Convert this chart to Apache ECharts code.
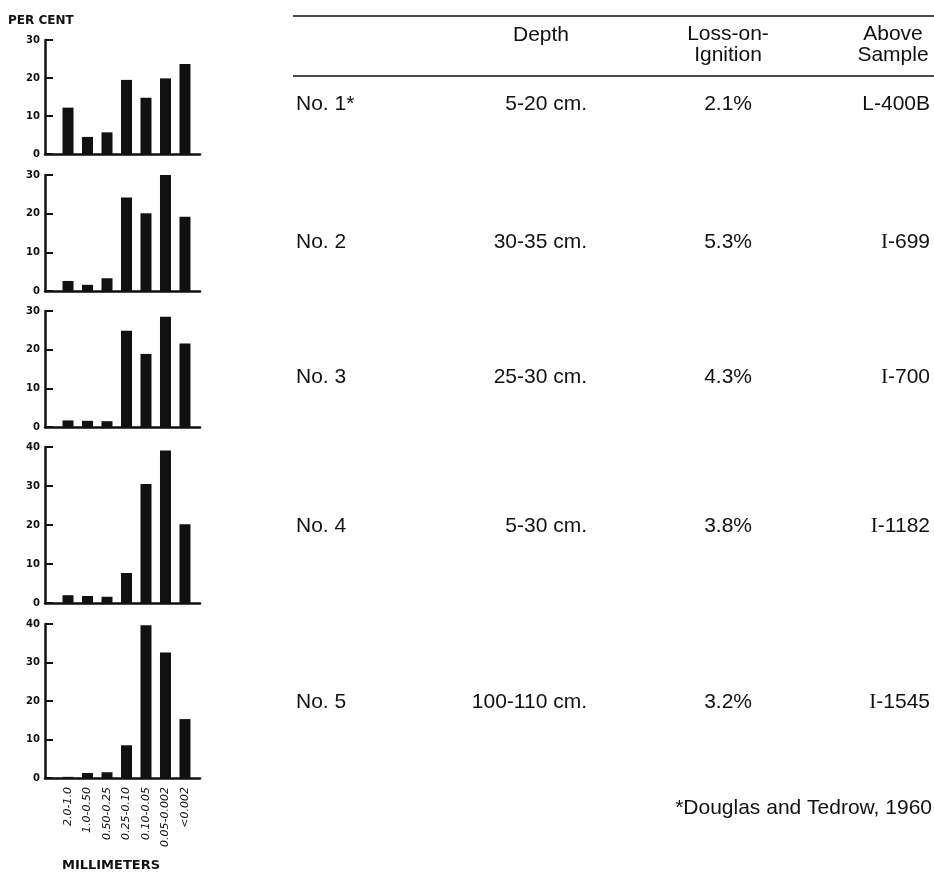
<!DOCTYPE html>
<html>
<head>
<meta charset="utf-8">
<script src="https://cdn.jsdelivr.net/npm/echarts@6/dist/echarts.min.js"></script>
<style>
  html, body { margin: 0; padding: 0; background: #fff; }
  #chart { width: 934px; height: 872px; }
</style>
</head>
<body>
<div id="chart"></div>
<script>
// ---- data ----
const categories = ['2.0-1.0', '1.0-0.50', '0.50-0.25', '0.25-0.10', '0.10-0.05', '0.05-0.002', '<0.002'];
const sample1 = [12.2, 4.5, 5.7, 19.5, 14.8, 19.9, 23.7];
const sample2 = [2.6, 1.6, 3.3, 24.2, 20.1, 30.1, 19.2];
const sample3 = [1.7, 1.6, 1.5, 24.9, 18.9, 28.5, 21.6];
const sample4 = [2.0, 1.8, 1.6, 7.7, 30.5, 39.1, 20.2];
const sample5 = [0.3, 1.3, 1.5, 8.5, 39.7, 32.6, 15.3];
const yMaxes = [30, 30, 30, 40, 40];
const sampleNames = ['No. 1*', 'No. 2', 'No. 3', 'No. 4', 'No. 5'];
const depths = ['5-20 cm.', '30-35 cm.', '25-30 cm.', '5-30 cm.', '100-110 cm.'];
const losses = ['2.1%', '5.3%', '4.3%', '3.8%', '3.2%'];
const labIds = ['L-400B', 'I-699', 'I-700', 'I-1182', 'I-1545'];
const headers = { depth: 'Depth', loss: 'Loss-on-\nIgnition', sample: 'Above\nSample' };
const footnote = '*Douglas and Tedrow, 1960';
const yTitle = 'PER CENT';
const xTitle = 'MILLIMETERS';

// ---- layout ----
const samples = [sample1, sample2, sample3, sample4, sample5];
const panels = [
  { top: 40, bottom: 154 },
  { top: 175, bottom: 291 },
  { top: 311, bottom: 427 },
  { top: 447, bottom: 603 },
  { top: 624, bottom: 778 }
];
const rowY = [104, 242, 377, 526, 702];
const INK = '#111';
const chartFont = 'DejaVu Sans';
const tableFont = 'Liberation Sans';

const chart = echarts.init(document.getElementById('chart'), null, { renderer: 'canvas' });

const grids = [], xAxes = [], yAxes = [], series = [];
panels.forEach((p, i) => {
  grids.push({ left: 45, width: 155, top: p.top, height: p.bottom - p.top, containLabel: false });
  const last = i === panels.length - 1;
  xAxes.push({
    type: 'value', gridIndex: i, min: -0.18, max: 7.77,
    axisLine: { show: true, onZero: false, lineStyle: { color: INK, width: 2.5 } },
    axisTick: { show: false },
    splitLine: { show: false },
    axisLabel: last ? {
      show: true,
      customValues: categories.map((c, k) => k + 1),
      formatter: v => categories[Math.round(v) - 1] || '',
      rotate: 90, margin: 9,
      fontFamily: chartFont, fontStyle: 'italic', fontSize: 11, color: INK
    } : { show: false }
  });
  yAxes.push({
    type: 'value', gridIndex: i, min: 0, max: yMaxes[i], interval: 10,
    axisLine: { show: true, onZero: false, lineStyle: { color: INK, width: 2.5 } },
    axisTick: { show: true, inside: true, length: 8, lineStyle: { color: INK, width: 2 } },
    splitLine: { show: false },
    axisLabel: { margin: 5, fontFamily: chartFont, fontWeight: 'bold', fontSize: 10, color: INK }
  });
  series.push({
    type: 'bar', xAxisIndex: i, yAxisIndex: i, barWidth: 11,
    itemStyle: { color: INK },
    silent: true,
    data: samples[i].map((v, k) => [k + 1, v])
  });
});

const txt = (x, y, text, align, extra) => ({
  type: 'text', x: x, y: y, silent: true,
  style: Object.assign({
    text: text, fill: INK, font: '21px "' + tableFont + '"',
    textAlign: align, textVerticalAlign: 'middle', lineHeight: 21
  }, extra || {})
});

const graphics = [];
// axis titles
graphics.push(txt(8, 21, yTitle, 'left', { font: 'bold 12px "' + chartFont + '"' }));
graphics.push(txt(111, 866, xTitle, 'center', { font: 'bold 13px "' + chartFont + '"' }));
// table rules
[16, 76].forEach(y => graphics.push({
  type: 'line', silent: true,
  shape: { x1: 293, y1: y, x2: 934, y2: y },
  style: { stroke: INK, lineWidth: 1.5 }
}));
// headers
graphics.push(txt(541, 35, headers.depth, 'center'));
graphics.push(txt(728, 45, headers.loss, 'center'));
graphics.push(txt(893, 45, headers.sample, 'center'));
// rows
sampleNames.forEach((n, i) => {
  const y = rowY[i];
  graphics.push(txt(296, y, n, 'left'));
  graphics.push(txt(587, y, depths[i], 'right'));
  graphics.push(txt(752, y, losses[i], 'right'));
  const id = labIds[i];
  if (id.charAt(0) === 'I') {
    graphics.push(txt(930, y, '{s|I}' + id.slice(1), 'right', {
      rich: { s: { fontFamily: 'Liberation Serif', fontSize: 21, fill: INK } }
    }));
  } else {
    graphics.push(txt(930, y, id, 'right'));
  }
});
graphics.push(txt(932, 808, footnote, 'right'));

chart.setOption({
  backgroundColor: '#fff',
  animation: false,
  grid: grids,
  xAxis: xAxes,
  yAxis: yAxes,
  series: series,
  graphic: { elements: graphics }
});
</script>
</body>
</html>
